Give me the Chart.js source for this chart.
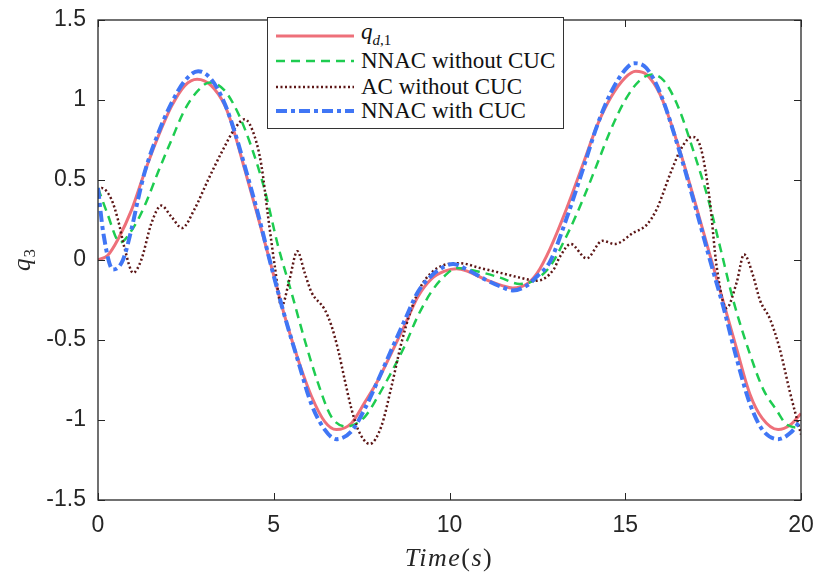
<!DOCTYPE html>
<html>
<head>
<meta charset="utf-8">
<script src="https://cdn.jsdelivr.net/npm/chart.js@4/dist/chart.umd.min.js"></script>
<style>
  html,body{margin:0;padding:0;background:#fff;}
  #wrap{position:relative;width:815px;height:575px;overflow:hidden;}
  #c{position:absolute;left:0;top:0;}
  .ttl{position:absolute;font-family:"Liberation Serif","DejaVu Serif",serif;color:#262626;white-space:nowrap;}
  #legend{position:absolute;left:267px;top:17px;width:297px;height:112px;border:1.3px solid #333;background:#fff;box-sizing:border-box;}
  .row{position:absolute;left:0;height:24px;display:flex;align-items:center;}
  .row svg{margin-left:8px;}
  .row span{margin-left:7px;font-family:"Liberation Serif","DejaVu Serif",serif;font-size:23px;color:#111;line-height:24px;}
</style>
</head>
<body>
<div id="wrap">
  <canvas id="c" width="815" height="575"></canvas>
  <div class="ttl" id="xtitle" style="left:349px;width:200px;text-align:center;top:543px;font-size:26px;letter-spacing:1.5px;"><i>Time</i>(<i>s</i>)</div>
  <div id="legend"></div>
</div>
<script>
// ---- data ----
const seriesNames = ["q_{d,1}", "NNAC without CUC", "AC without CUC", "NNAC with CUC"];

const tRef = [0,0.28,0.57,0.95,1.33,1.71,2.09,2.47,2.82,3.22,3.6,3.79,4.17,4.55,4.93,5.31,5.69,6.07,6.45,6.78,7.21,7.59,7.97,8.35,8.72,9.1,9.48,9.86,10.2,10.5,11.0,11.5,11.8,12.2,12.5,12.86,13.33,13.8,14.2,14.6,15.0,15.3,15.6,16.0,16.5,16.96,17.41,17.8,18.15,18.55,18.9,19.35,19.7,20];
const qRef = [0,0.03,0.13,0.31,0.55,0.77,0.96,1.09,1.13,1.09,0.97,0.86,0.57,0.27,-0.04,-0.35,-0.62,-0.85,-1.01,-1.06,-1.02,-0.89,-0.75,-0.58,-0.41,-0.23,-0.12,-0.07,-0.055,-0.07,-0.12,-0.16,-0.175,-0.15,-0.08,0.07,0.32,0.6,0.84,1.02,1.14,1.18,1.16,1.03,0.72,0.38,0.03,-0.27,-0.54,-0.84,-0.99,-1.06,-1.03,-0.96];

const tNN = [0,0.25,0.63,1.0,1.33,1.71,2.09,2.47,2.85,3.18,3.6,3.98,4.36,4.74,5.12,5.5,5.88,6.26,6.64,7.07,7.59,7.97,8.35,8.72,9.1,9.48,9.86,10.2,10.77,11.44,12.0,12.38,12.86,13.33,13.8,14.2,14.6,15.0,15.4,15.76,16.1,16.5,17.0,17.36,17.7,18.07,18.55,18.93,19.31,19.6,20];
const qNN = [0.45,0.3,0.11,0.2,0.34,0.55,0.75,0.94,1.06,1.11,1.06,0.92,0.71,0.44,0.09,-0.2,-0.5,-0.77,-0.98,-1.04,-0.98,-0.85,-0.7,-0.54,-0.35,-0.2,-0.1,-0.05,-0.07,-0.11,-0.15,-0.13,-0.04,0.15,0.38,0.6,0.82,1.0,1.12,1.16,1.12,0.96,0.64,0.38,0.08,-0.25,-0.59,-0.81,-0.94,-1.03,-1.05];

const tAC = [0,0.1,0.38,0.57,0.76,1.0,1.23,1.52,1.8,2.09,2.39,2.75,3.13,3.51,3.89,4.17,4.46,4.65,4.84,5.03,5.22,5.45,5.67,5.88,6.07,6.45,6.64,6.83,7.02,7.21,7.4,7.73,8.06,8.35,8.63,8.91,9.2,9.48,9.86,10.3,10.87,11.44,12.0,12.48,12.96,13.14,13.45,13.9,14.35,14.7,15.23,15.61,15.9,16.3,16.6,16.9,17.15,17.4,17.6,17.88,18.17,18.38,18.64,18.83,19.12,19.4,19.69,20];
const qAC = [0.43,0.45,0.38,0.25,0.07,-0.08,0.0,0.23,0.34,0.27,0.2,0.32,0.5,0.67,0.82,0.88,0.77,0.59,0.27,-0.04,-0.29,-0.12,0.055,-0.08,-0.2,-0.31,-0.41,-0.56,-0.75,-0.93,-1.06,-1.15,-1.04,-0.79,-0.52,-0.31,-0.16,-0.08,-0.03,-0.02,-0.05,-0.08,-0.11,-0.13,-0.06,0.02,0.1,0.01,0.12,0.1,0.17,0.22,0.32,0.55,0.7,0.77,0.7,0.38,-0.04,-0.3,-0.14,0.035,-0.1,-0.25,-0.37,-0.56,-0.83,-1.09];

const tNNC = [0,0.15,0.43,0.71,0.95,1.14,1.33,1.71,2.09,2.47,2.85,3.22,3.6,3.89,4.17,4.55,4.93,5.31,5.69,6.07,6.45,6.78,7.21,7.59,7.97,8.35,8.72,9.1,9.48,9.86,10.1,10.5,11.0,11.5,11.8,12.2,12.5,12.86,13.33,13.8,14.2,14.6,15.0,15.25,15.6,16.0,16.5,16.96,17.41,17.8,18.15,18.55,18.9,19.35,19.7,20];
const qNNC = [0.45,0.17,-0.06,0.0,0.19,0.38,0.55,0.79,0.98,1.12,1.18,1.13,0.98,0.8,0.59,0.29,-0.04,-0.35,-0.63,-0.9,-1.06,-1.12,-1.07,-0.93,-0.75,-0.56,-0.38,-0.2,-0.1,-0.04,-0.025,-0.06,-0.12,-0.17,-0.19,-0.16,-0.1,-0.01,0.26,0.57,0.84,1.05,1.19,1.23,1.2,1.04,0.71,0.36,0.0,-0.3,-0.6,-0.9,-1.06,-1.12,-1.08,-1.0];

const xTickValues = [0,5,10,15,20];
const xTickLabels = ["0","5","10","15","20"];
const yTickValues = [-1.5,-1,-0.5,0,0.5,1,1.5];
const yTickLabels = ["-1.5","-1","-0.5","0","0.5","1","1.5"];

// ---- styles ----
const styles = [
  {color:"rgb(238,112,122)", width:3,   dash:[]},
  {color:"rgb(30,204,80)",   width:2.5, dash:[9,6]},
  {color:"rgb(92,22,22)",    width:2.5, dash:[2,2.5]},
  {color:"rgb(64,118,245)",  width:4,   dash:[11,4,4,4]}
];

function pts(t,q){ return t.map((x,i)=>({x:x,y:q[i]})); }
const seriesData = [pts(tRef,qRef), pts(tNN,qNN), pts(tAC,qAC), pts(tNNC,qNNC)];

const datasets = seriesData.map((d,i)=>({
  label: seriesNames[i],
  data: d,
  borderColor: styles[i].color,
  borderWidth: styles[i].width,
  borderDash: styles[i].dash,
  pointRadius: 0,
  fill: false,
  cubicInterpolationMode: 'monotone',
  order: 4 - i
}));

const axisColor = "#262626";
const boxPlugin = {
  id:'boxTicks',
  afterDatasetsDraw(chart){
    const {ctx, chartArea:a, scales} = chart;
    ctx.save();
    ctx.strokeStyle = axisColor;
    ctx.lineWidth = 1.3;
    ctx.setLineDash([]);
    ctx.strokeRect(a.left, a.top, a.right-a.left, a.bottom-a.top);
    ctx.lineWidth = 1;
    const L = 7;
    ctx.beginPath();
    xTickValues.forEach(v=>{
      const px = Math.round(scales.x.getPixelForValue(v))+0.5;
      ctx.moveTo(px,a.bottom); ctx.lineTo(px,a.bottom-L);
      ctx.moveTo(px,a.top); ctx.lineTo(px,a.top+L);
    });
    yTickValues.forEach(v=>{
      const py = Math.round(scales.y.getPixelForValue(v))+0.5;
      ctx.moveTo(a.left,py); ctx.lineTo(a.left+L,py);
      ctx.moveTo(a.right,py); ctx.lineTo(a.right-L,py);
    });
    ctx.stroke();
    // rotated y-axis title q_3
    const cy = (a.top + a.bottom)/2;
    ctx.translate(30, cy);
    ctx.rotate(-Math.PI/2);
    ctx.fillStyle = axisColor;
    ctx.textBaseline = 'alphabetic';
    ctx.font = "italic 25px 'Liberation Serif', 'DejaVu Serif', serif";
    const qw = ctx.measureText('q').width;
    const subFont = "17px 'Liberation Serif', 'DejaVu Serif', serif";
    ctx.font = subFont;
    const sw = ctx.measureText('3').width;
    const x0 = -(qw + sw + 1)/2;
    ctx.font = "italic 25px 'Liberation Serif', 'DejaVu Serif', serif";
    ctx.fillText('q', x0, 0);
    ctx.font = subFont;
    ctx.fillText('3', x0 + qw + 1, 5);
    ctx.restore();
  }
};

const tickFont = {family:"'Liberation Sans', Arial, Helvetica, sans-serif", size:23};

new Chart(document.getElementById('c'), {
  type:'line',
  data:{datasets},
  options:{
    responsive:false,
    animation:false,
    devicePixelRatio:1,
    layout:{padding:{left:0,right:14,top:20,bottom:0}},
    plugins:{legend:{display:false}, tooltip:{enabled:false}},
    scales:{
      x:{
        type:'linear', min:0, max:20,
        afterBuildTicks(s){ s.ticks = xTickValues.map(v=>({value:v})); },
        ticks:{color:axisColor, font:tickFont, padding:12, maxRotation:0,
          callback:(v)=>{const i=xTickValues.indexOf(v); return i>=0?xTickLabels[i]:'';}},
        grid:{display:false, drawTicks:false},
        border:{display:false},
        afterFit(s){ s.height = 75; s.paddingLeft = 0; s.paddingRight = 0; s.paddingTop = 0; s.paddingBottom = 0; }
      },
      y:{
        type:'linear', min:-1.5, max:1.5,
        afterBuildTicks(s){ s.ticks = yTickValues.map(v=>({value:v})); },
        ticks:{color:axisColor, font:tickFont, padding:12,
          callback:(v)=>{const i=yTickValues.indexOf(v); return i>=0?yTickLabels[i]:'';}},
        grid:{display:false, drawTicks:false},
        border:{display:false},
        afterFit(s){ s.width = 98; s.paddingLeft = 0; s.paddingRight = 0; s.paddingTop = 0; s.paddingBottom = 0; }
      }
    }
  },
  plugins:[boxPlugin]
});

// ---- HTML legend built from series names and styles ----
const legendEl = document.getElementById('legend');
const rowTops = [6, 31, 57, 81];
seriesNames.forEach((name,i)=>{
  const row = document.createElement('div');
  row.className='row';
  row.style.top = rowTops[i]+'px';
  const st = styles[i];
  const svg = `<svg width="78" height="10"><line x1="0" y1="5" x2="78" y2="5" stroke="${st.color}" stroke-width="${st.width}" ${st.dash.length?`stroke-dasharray="${st.dash.join(',')}"`:''}/></svg>`;
  let label;
  if(i===0){ label = '<i>q</i><sub style="font-size:15px;"><i>d</i>,1</sub>'; }
  else { label = name; }
  row.innerHTML = svg + '<span>'+label+'</span>';
  legendEl.appendChild(row);
});
</script>
</body>
</html>
